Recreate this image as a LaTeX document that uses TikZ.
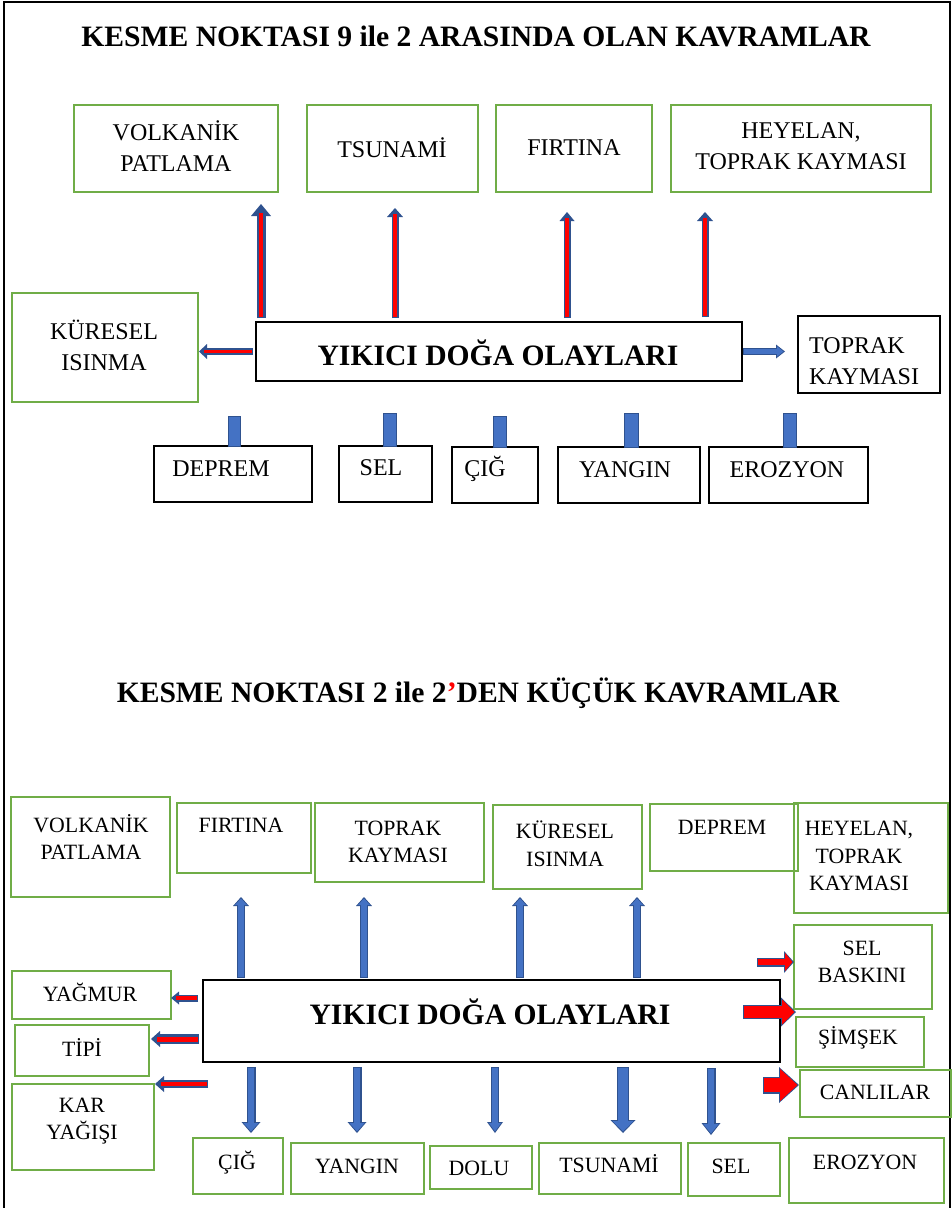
\documentclass[tikz,border=0pt]{standalone}
\usepackage{fontspec}
\setmainfont{Liberation Serif}
\usetikzlibrary{arrows.meta,calc}
\definecolor{gbox}{HTML}{70AD47}
\definecolor{dblue}{HTML}{2F528F}
\definecolor{mblue}{HTML}{4472C4}
\definecolor{rfill}{HTML}{FF0000}
\tikzset{
  gb/.style={draw=gbox, line width=2.5pt, rectangle, inner sep=0pt, outer sep=0pt},
  kb/.style={draw=black, line width=2pt, rectangle, inner sep=0pt, outer sep=0pt},
  ta/.style={font=\fontsize{24}{31}\selectfont, align=center, inner sep=0pt},
  tal/.style={font=\fontsize{24}{31}\selectfont, align=left, inner sep=0pt, anchor=west},
  tb/.style={font=\fontsize{21.8}{27.5}\selectfont, align=center, inner sep=0pt},
  tt/.style={font=\bfseries\fontsize{29.6}{34}\selectfont, inner sep=0pt},
  stubst/.style={fill=mblue, draw=dblue, line width=1pt},
}
\newcommand{\mkbox}[6]{\node[#6, minimum width={(#4)-(#2)}, minimum height={(#5)-(#3)}] (#1) at ({((#2)+(#4))/2},{((#3)+(#5))/2}) {};}
\newcommand{\mktext}[5]{\node[#5] (#1) at (#2,#3) {#4};}
% block arrow: start, end, shaft, head width, head length, shorten end, shorten start, inner colour
\newcommand{\barr}[8]{%
  \pgfmathsetmacro\aiw{#3-2.4}%
  \pgfmathsetmacro\aiW{#4-3.8}%
  \pgfmathsetmacro\aiL{#5-2.6}%
  \pgfmathsetmacro\aise{#6+1.6}%
  \pgfmathsetmacro\aiss{#7+1.2}%
  \draw[draw=dblue, line width=#3pt, -{Triangle[length=#5pt,width=#4pt,line width=0pt]}, shorten >=#6pt, shorten <=#7pt] (#1) -- (#2);
  \draw[draw=#8, line width=\aiw pt, -{Triangle[length=\aiL pt,width=\aiW pt,line width=0pt]}, shorten >=\aise pt, shorten <=\aiss pt] (#1) -- (#2);
}
% striped arrow: blue with red stripe
\newcommand{\sarr}[7]{%
  \pgfmathsetmacro\aiw{#3*0.5}%
  \pgfmathsetmacro\aise{#6+#5-3}%
  \pgfmathsetmacro\aiss{#7+1.5}%
  \draw[draw=dblue, line width=#3pt, -{Triangle[length=#5pt,width=#4pt,line width=0pt]}, shorten >=#6pt, shorten <=#7pt] (#1) -- (#2);
  \draw[draw=rfill, line width=\aiw pt, shorten >=\aise pt, shorten <=\aiss pt] (#1) -- (#2);
}
\begin{document}
\begin{tikzpicture}[x=1pt,y=-1pt]
\useasboundingbox (0,0) rectangle (952,1208);
\draw[line width=2pt] (4,1208) -- (4,2) -- (949.5,2) -- (949.5,1208);

% ---------- top section ----------
\mktext{t1}{476}{36}{KESME NOKTASI 9 ile 2 ARASINDA OLAN KAVRAMLAR}{tt}

\mkbox{vp}{74}{105}{278}{192}{gb}
\mkbox{ts}{307}{105}{478}{192}{gb}
\mkbox{fi}{496}{105}{652}{192}{gb}
\mkbox{he}{671}{105}{931}{192}{gb}
\mktext{vpt}{176}{146}{VOLKANİK\\PATLAMA}{ta}
\mktext{tst}{392}{148}{TSUNAMİ}{ta}
\mktext{fit}{574}{148}{FIRTINA}{ta}
\mktext{het}{801}{146}{HEYELAN,\\TOPRAK KAYMASI}{ta}

\mkbox{kur}{12}{293}{198}{402}{gb}
\mktext{kurt}{104}{345}{KÜRESEL\\ISINMA}{ta}
\mkbox{c}{256}{322}{742}{381}{kb}
\mktext{ct}{498}{353}{YIKICI DOĞA OLAYLARI}{tt}
\mkbox{tk}{798}{316}{940}{393}{kb}
\mktext{tkt}{809}{361}{TOPRAK\\KAYMASI}{tal}

\mkbox{dep}{154}{446}{312}{502}{kb}
\mkbox{sela}{339}{446}{432}{502}{kb}
\mkbox{ciga}{452}{447}{538}{503}{kb}
\mkbox{yana}{558}{447}{700}{503}{kb}
\mkbox{eroa}{709}{447}{868}{503}{kb}
\mktext{dept}{221}{469}{DEPREM}{ta}
\mktext{selat}{381}{468}{SEL}{ta}
\mktext{cigat}{485}{469}{ÇIĞ}{ta}
\mktext{yanat}{625}{470}{YANGIN}{ta}
\mktext{eroat}{787}{470}{EROZYON}{ta}

\draw[stubst] (dep.north -| 228,0) rectangle ++(12,-30);
\draw[stubst] (sela.north -| 383,0) rectangle ++(13,-33);
\draw[stubst] (ciga.north -| 493,0) rectangle ++(13,-31);
\draw[stubst] (yana.north -| 624,0) rectangle ++(14,-34);
\draw[stubst] (eroa.north -| 783,0) rectangle ++(13,-34);

\coordinate (u1) at (261,0 |- c.north);
\coordinate (u2) at (395,0 |- c.north);
\coordinate (u3) at (567,0 |- c.north);
\coordinate (u4) at (705,0 |- c.north);
\sarr{u1}{u1 |- vp.south}{9}{20}{12}{12}{4}
\sarr{u2}{u2 |- ts.south}{7}{16}{9}{16}{4}
\sarr{u3}{u3 |- fi.south}{7}{15}{9}{20}{4}
\sarr{u4}{u4 |- he.south}{7}{16}{9}{20}{5}
\coordinate (l1) at (c.west);
\sarr{l1}{l1 -| kur.east}{7}{15}{8}{1}{3}
\coordinate (r1) at (c.east);
\barr{r1}{r1 -| tk.west}{7}{14}{9}{13}{1}{mblue}

% ---------- bottom section ----------
\node[tt] (t2) at (478,693) {KESME NOKTASI 2 ile 2{\color{rfill}’}DEN KÜÇÜK KAVRAMLAR};

\mkbox{vpb}{11}{797}{170}{897}{gb}
\mkbox{fib}{177}{803}{311}{873}{gb}
\mkbox{tkb}{315}{803}{484}{882}{gb}
\mkbox{kub}{493}{805}{642}{889}{gb}
\mkbox{deb}{650}{804}{798}{871}{gb}
\mkbox{heb}{794}{803}{948}{913}{gb}
\mktext{vpbt}{91}{837}{VOLKANİK\\PATLAMA}{tb}
\mktext{fibt}{241}{825}{FIRTINA}{tb}
\mktext{tkbt}{398}{842}{TOPRAK\\KAYMASI}{tb}
\mktext{kubt}{565}{844}{KÜRESEL\\ISINMA}{tb}
\mktext{debt}{722}{827}{DEPREM}{tb}
\mktext{hebt}{859}{856}{HEYELAN,\\TOPRAK\\KAYMASI}{tb}

\mkbox{cb}{203}{980}{780}{1062}{kb}
\mktext{cbt}{490}{1012}{YIKICI DOĞA OLAYLARI}{tt}

\mkbox{yag}{12}{971}{171}{1019}{gb}
\mkbox{ti}{15}{1025}{149}{1076}{gb}
\mkbox{kar}{12}{1084}{154}{1170}{gb}
\mktext{yagt}{90}{992}{YAĞMUR}{tb}
\mktext{tit}{82}{1047}{TİPİ}{tb}
\mktext{kart}{82}{1121}{KAR\\YAĞIŞI}{tb}

\mkbox{cig}{193}{1138}{283}{1194}{gb}
\mkbox{yan}{291}{1143}{424}{1194}{gb}
\mkbox{dol}{430}{1146}{532}{1189}{gb}
\mkbox{tsu}{539}{1143}{681}{1194}{gb}
\mkbox{sel}{688}{1143}{780}{1196}{gb}
\mkbox{ero}{789}{1138}{944}{1203}{gb}
\mktext{cigt}{237}{1163}{ÇIĞ}{tb}
\mktext{yant}{357}{1166}{YANGIN}{tb}
\mktext{dolt}{479}{1168}{DOLU}{tb}
\mktext{tsut}{609}{1164}{TSUNAMİ}{tb}
\mktext{selt}{731}{1166}{SEL}{tb}
\mktext{erot}{865}{1162}{EROZYON}{tb}

\mkbox{sb}{794}{925}{932}{1009}{gb}
\mkbox{sm}{796}{1017}{924}{1067}{gb}
\mkbox{can}{800}{1070}{951}{1117}{gb}
\mktext{sbt}{862}{962}{SEL\\BASKINI}{tb}
\mktext{smt}{858}{1038}{ŞİMŞEK}{tb}
\mktext{cant}{875}{1092}{CANLILAR}{tb}

\coordinate (v1) at (241,0 |- cb.north);
\coordinate (v2) at (364,0 |- cb.north);
\coordinate (v3) at (520,0 |- cb.north);
\coordinate (v4) at (637,0 |- cb.north);
\barr{v1}{v1 |- fib.south}{8}{16}{9}{24}{2}{mblue}
\barr{v2}{v2 |- tkb.south}{8}{16}{9}{15}{2}{mblue}
\barr{v3}{v3 |- kub.south}{8}{16}{9}{8}{2}{mblue}
\barr{v4}{v4 |- kub.south}{8}{16}{9}{8}{2}{mblue}

\coordinate (y1) at (cb.west |- 0,998);
\coordinate (y2) at (cb.west |- 0,1039);
\coordinate (y3) at (208,1084);
\sarr{y1}{y1 -| yag.east}{7}{13}{8}{0}{5}
\sarr{y2}{y2 -| ti.east}{10}{16}{9}{2}{4}
\sarr{y3}{y3 -| kar.east}{8}{16}{9}{1}{0}

\coordinate (d1) at (251,0 |- cb.south);
\coordinate (d2) at (357,0 |- cb.south);
\coordinate (d3) at (495,0 |- cb.south);
\coordinate (d4) at (623,0 |- cb.south);
\coordinate (d5) at (711,0 |- cb.south);
\barr{d1}{d1 |- cig.north}{9}{19}{11}{5}{5}{mblue}
\barr{d2}{d2 |- yan.north}{9}{19}{11}{10}{5}{mblue}
\barr{d3}{d3 |- dol.north}{8}{16}{11}{13}{5}{mblue}
\barr{d4}{d4 |- tsu.north}{12}{25}{13}{10}{5}{mblue}
\barr{d5}{d5 |- sel.north}{9}{19}{12}{8}{6}{mblue}

\coordinate (s1) at (757,962);
\coordinate (s2) at (743,1012);
\coordinate (s3) at (763,1085);
\barr{s1}{s1 -| sb.west}{9}{22}{10}{0}{0}{rfill}
\barr{s2}{s2 -| sm.west}{14}{29}{15}{0}{0}{rfill}
\barr{s3}{s3 -| can.west}{17}{36}{20}{1}{0}{rfill}
\end{tikzpicture}
\end{document}
